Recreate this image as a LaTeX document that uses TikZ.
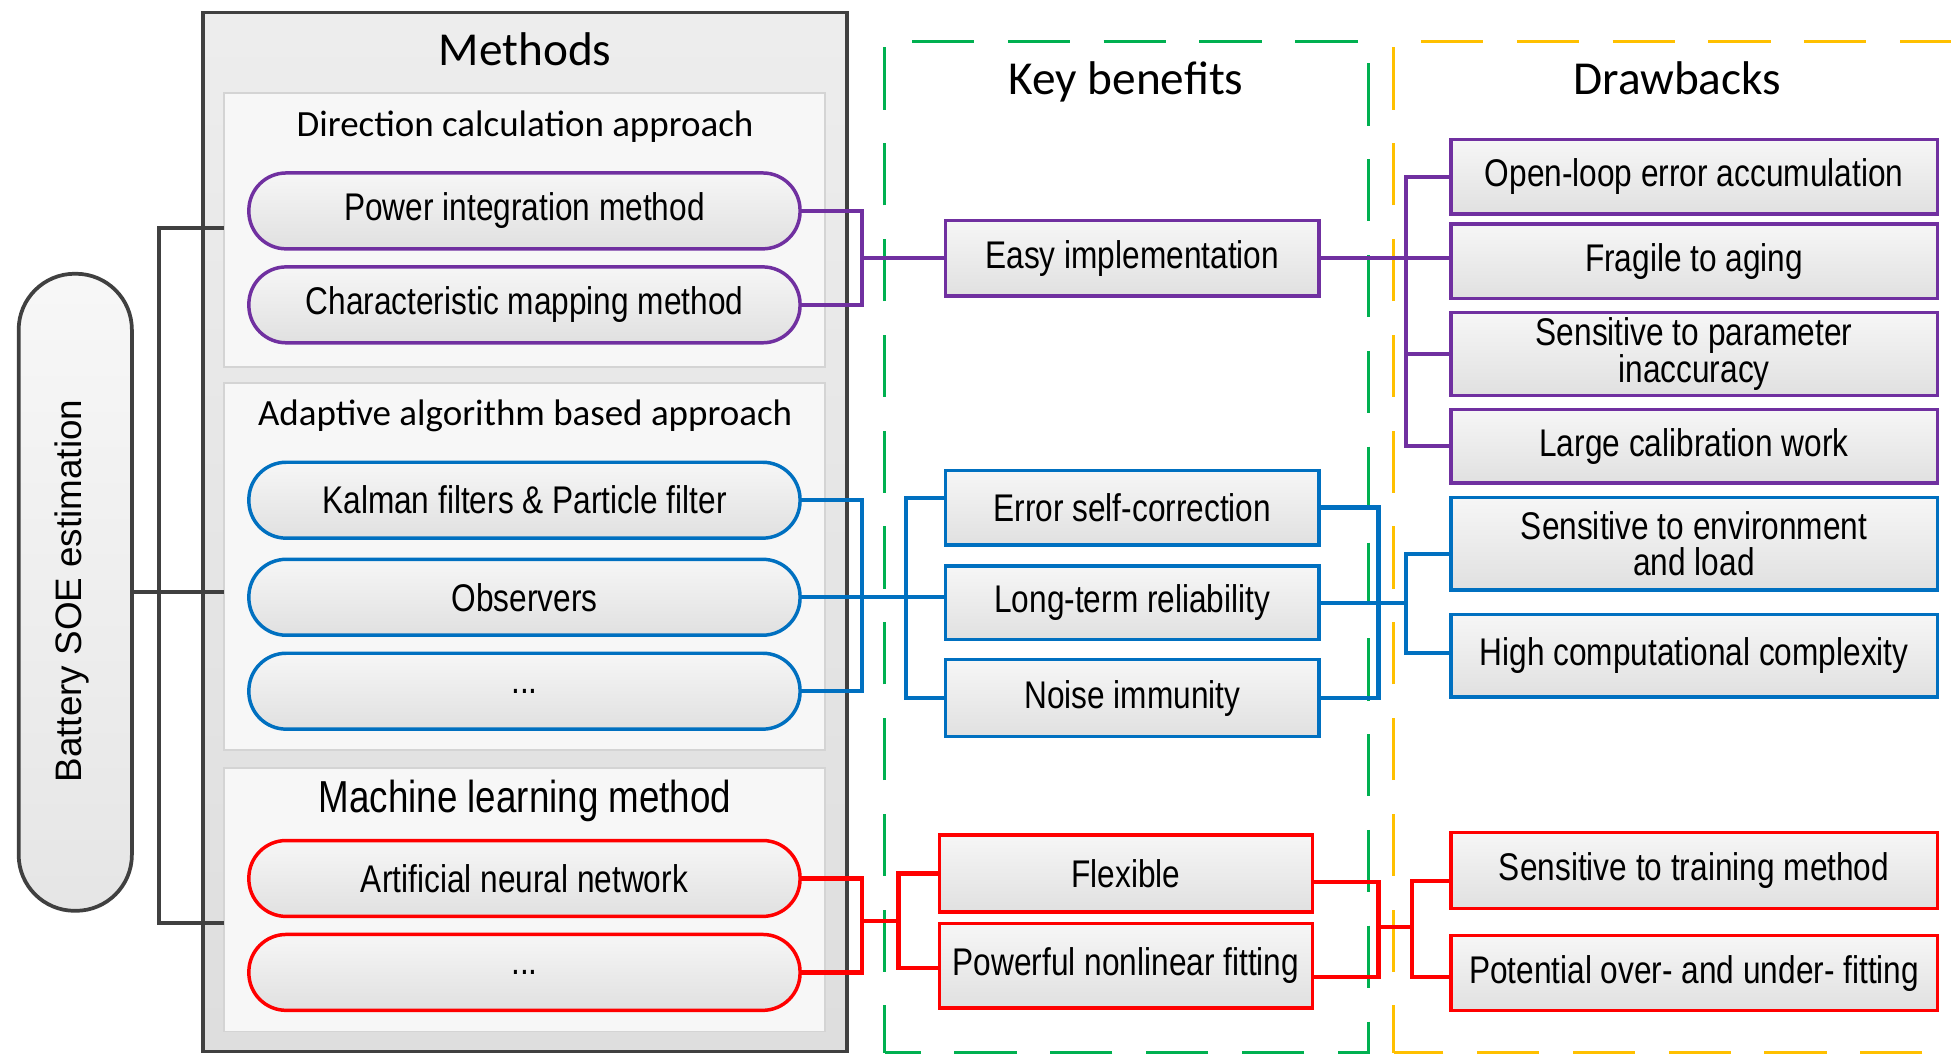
\documentclass[tikz,border=0pt]{standalone}
\usepackage{fontspec}
\setmainfont{Liberation Sans}
\newfontfamily\narrowfont[FakeStretch=0.82]{Liberation Sans}
\newfontfamily\headfont{Carlito}
\usetikzlibrary{calc}

\definecolor{cPurple}{HTML}{7030A0}
\definecolor{cBlue}{HTML}{0070C0}
\definecolor{cRed}{HTML}{FF0000}
\definecolor{cGreen}{HTML}{00B050}
\definecolor{cOrange}{HTML}{FFC000}
\definecolor{cDark}{HTML}{404040}
\definecolor{cPanelLine}{HTML}{D4D4D4}

\begin{document}
\begin{tikzpicture}[x=1pt,y=-1pt,
  every node/.style={inner sep=0pt, outer sep=0pt},
  body/.style={font=\narrowfont\fontsize{31pt}{29pt}\selectfont, align=center, text=black},
  sheen/.style={top color=gray!7, bottom color=gray!24},
  pill/.style={body, sheen, draw=#1, line width=2.8pt, rounded corners=30pt,
    minimum width=443pt, minimum height=61pt},
  benefit/.style={body, sheen, draw=#1, line width=2.8pt, minimum width=300pt},
  drawback/.style={body, sheen, draw=#1, line width=2.8pt, minimum width=391pt},
  panel/.style={fill=gray!6, draw=cPanelLine, line width=1.5pt, minimum width=483pt},
  heading/.style={font=\headfont\fontsize{38pt}{40pt}\selectfont, anchor=base},
  subheading/.style={font=\headfont\fontsize{29.7pt}{32pt}\selectfont},
  conn/.style={draw=#1, line width=3.5pt, line join=miter},
  frame/.style={draw=#1, line width=2.5pt, dash pattern=on 50pt off 27pt}
]
\useasboundingbox (0,0) rectangle (1568,847);
\clip (0,0) rectangle (1568,847);
\fill[white] (0,0) rectangle (1568,847);

% column frames
\draw[frame=cGreen, dash phase=12pt] (711,846) -- (711,33) -- (1100,33) -- (1100,846) -- cycle;
\draw[frame=cOrange, dash phase=12pt] (1120,846) -- (1120,33) -- (1630,33) -- (1630,846) -- cycle;
\node[heading] (kbTitle) at (905,76) {Key benefits};
\node[heading] (dbTitle) at (1348,76) {Drawbacks};

% methods column
\node[draw=cDark, line width=3pt, top color=gray!14, bottom color=gray!26,
  minimum width=518pt, minimum height=835pt] (methods) at (422,427.5) {};
\node[heading] (mTitle) at (422,53) {Methods};

\node[panel, minimum height=220pt] (p1) at (421.5,185) {};
\node[panel, minimum height=295pt] (p2) at (421.5,455.5) {};
\node[panel, minimum height=212pt] (p3) at (421.5,723) {};

\node[subheading] (p1Title) at (422,102) {Direction calculation approach};
\node[subheading] (p2Title) at (422,334) {Adaptive algorithm based approach};
\node[font=\narrowfont\fontsize{36pt}{38pt}\selectfont] (p3Title) at (422,644) {Machine learning method};

% root node
\node[draw=cDark, line width=3pt, top color=gray!6, bottom color=gray!20, rounded corners=45pt,
  minimum width=91pt, minimum height=512pt] (bat) at (60.5,476) {};
\node[rotate=90, font=\fontsize{29.6pt}{32pt}\selectfont] (batText) at (58,475) {Battery SOE estimation};

% root connectors
\coordinate (gbus) at (128,0);
\coordinate (g1) at ([yshift=2pt]p1.west);
\coordinate (g3) at ([yshift=-19pt]p3.west);
\draw[conn=cDark] (bat.east) -- (bat.east -| p2.west);
\draw[conn=cDark] (g1) -- (gbus |- g1) -- (gbus |- g3) -- (g3);

% method pills
\node[pill=cPurple] (pim) at (421.5,169.5) {Power integration method};
\node[pill=cPurple] (cmm) at (421.5,245) {Characteristic mapping method};
\node[pill=cBlue] (kal) at (421.5,402) {Kalman filters \& Particle filter};
\node[pill=cBlue] (obs) at (421.5,480) {Observers};
\node[pill=cBlue] (dots1) at (421.5,555.5) {...};
\node[pill=cRed] (ann) at (421.5,706) {Artificial neural network};
\node[pill=cRed] (dots2) at (421.5,781.5) {...};

% key benefits
\node[benefit=cPurple, minimum height=61pt] (easy) at (910,207.5) {Easy implementation};
\node[benefit=cBlue, minimum height=60pt] (esc) at (910,408) {Error self-correction};
\node[benefit=cBlue, minimum height=59pt] (ltr) at (910,484.5) {Long-term reliability};
\node[benefit=cBlue, minimum height=62pt] (noise) at (910,561) {Noise immunity};
\node[benefit=cRed, minimum height=62pt] (flex) at (905,702) {Flexible};
\node[benefit=cRed, minimum height=68pt] (pnf) at (905,776) {Powerful nonlinear fitting};

% drawbacks
\node[drawback=cPurple, minimum height=60pt] (o1) at (1361.5,142) {Open-loop error accumulation};
\node[drawback=cPurple, minimum height=60pt] (o2) at (1361.5,210) {Fragile to aging};
\node[drawback=cPurple, minimum height=67pt] (o3) at (1361.5,284.5) {Sensitive to parameter\\inaccuracy};
\node[drawback=cPurple, minimum height=59pt] (o4) at (1361.5,358.5) {Large calibration work};
\node[drawback=cBlue, minimum height=74pt] (env) at (1361.5,437) {Sensitive to environment\\and load};
\node[drawback=cBlue, minimum height=66pt] (hcc) at (1361.5,527) {High computational complexity};
\node[drawback=cRed, minimum height=61pt] (str) at (1361.5,699.5) {Sensitive to training method};
\node[drawback=cRed, minimum height=60pt] (pof) at (1361.5,782) {Potential over- and under- fitting};

% bus positions
\coordinate (busA) at (693,0);
\coordinate (busB) at (728,0);
\coordinate (busR) at (722,0);
\coordinate (busC) at (1108,0);
\coordinate (busD) at (1130,0);
\coordinate (busE) at (1135,0);

% purple branch
\draw[conn=cPurple] (pim.east) -- (busA |- pim.east) -- (busA |- cmm.east) -- (cmm.east);
\draw[conn=cPurple] (busA |- easy.west) -- (easy.west);
\draw[conn=cPurple] (easy.east) -- (o2.west |- easy.east);
\draw[conn=cPurple] (o1.west) -- (busD |- o1.west) -- (busD |- o4.west) -- (o4.west);
\draw[conn=cPurple] (busD |- o3.west) -- (o3.west);

% blue branch
\coordinate (escIn) at ([yshift=8pt]esc.west);
\coordinate (envIn) at ([yshift=-8pt]env.west);
\coordinate (hccIn) at ([yshift=2pt]hcc.west);
\draw[conn=cBlue] (kal.east) -- (busA |- kal.east) -- (busA |- dots1.east) -- (dots1.east);
\draw[conn=cBlue] (obs.east) -- (ltr.west |- obs.east);
\draw[conn=cBlue] (escIn) -- (busB |- escIn) -- (busB |- noise.west) -- (noise.west);
\draw[conn=cBlue] (esc.east) -- (busC |- esc.east) -- (busC |- noise.east) -- (noise.east);
\draw[conn=cBlue] (ltr.east) -- (busD |- ltr.east);
\draw[conn=cBlue] (envIn) -- (busD |- envIn) -- (busD |- hccIn) -- (hccIn);

% red branch
\coordinate (redMid) at (693,740);
\coordinate (pnfIn) at ([yshift=-2pt]pnf.west);
\coordinate (flexOut) at ([yshift=-7pt]flex.east);
\coordinate (pnfOut) at ([yshift=-9pt]pnf.east);
\coordinate (redMid2) at (1108,745);
\coordinate (strIn) at ([yshift=-8.5pt]str.west);
\coordinate (pofIn) at ([yshift=-3pt]pof.west);
\draw[conn=cRed] (ann.east) -- (busA |- ann.east) -- (busA |- dots2.east) -- (dots2.east);
\draw[conn=cRed] (redMid) -- (busR |- redMid);
\draw[conn=cRed] (flex.west) -- (busR |- flex.west) -- (busR |- pnfIn) -- (pnfIn);
\draw[conn=cRed] (flexOut) -- (busC |- flexOut) -- (busC |- pnfOut) -- (pnfOut);
\draw[conn=cRed] (redMid2) -- (busE |- redMid2);
\draw[conn=cRed] (strIn) -- (busE |- strIn) -- (busE |- pofIn) -- (pofIn);
\end{tikzpicture}
\end{document}
